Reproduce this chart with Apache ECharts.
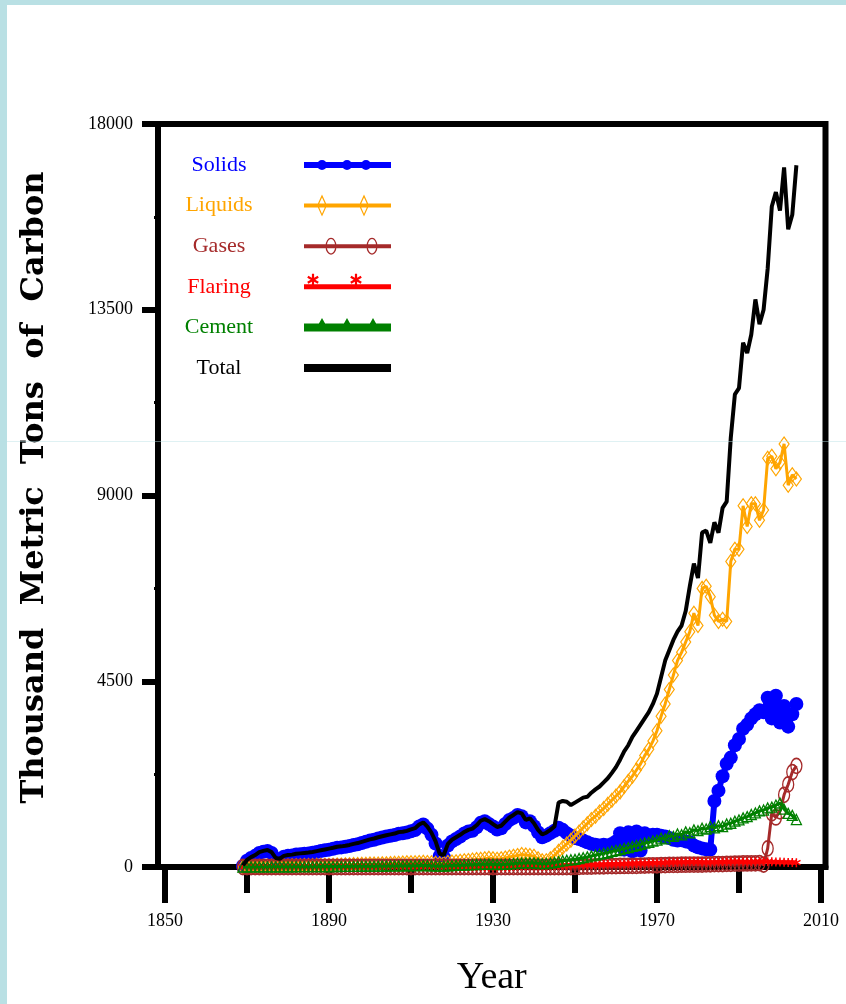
<!DOCTYPE html>
<html><head><meta charset="utf-8">
<script src="https://cdn.jsdelivr.net/npm/echarts@6/dist/echarts.min.js"></script>
<style>
html,body{margin:0;padding:0;background:#fff;}
#chart{position:absolute;left:0;top:0;width:846px;height:1004px;}
.band{position:absolute;background:#b9e0e4;pointer-events:none;}
</style></head><body>
<div id="chart"></div>
<div class="band" style="left:0;top:0;width:846px;height:5px"></div>
<div class="band" style="left:0;top:0;width:7px;height:1004px"></div>
<div style="position:absolute;left:0;top:441px;width:846px;height:1px;background:rgba(185,224,228,0.45);pointer-events:none"></div>
<script>
// ---------------- DATA ----------------
const firstYear = 1869, lastYear = 2004;
const years = [];
for (let y = firstYear; y <= lastYear; y++) years.push(y);

const solids = [25,
 150,220,270,340,370,390,340,200,180,250,
 270,280,300,310,320,330,345,365,385,405,
 420,440,465,475,490,510,530,550,580,610,
 640,660,690,715,740,755,775,805,815,835,
 865,895,980,1030,930,780,570,270,240,520,
 620,680,740,810,860,880,960,1070,1110,1040,
 980,910,940,1040,1140,1190,1260,1230,1080,1110,
 990,840,720,760,820,880,950,900,820,760,
 700,680,640,600,560,540,520,540,520,560,
 620,820,420,840,380,860,400,820,760,780,
 780,760,740,700,660,640,650,620,600,520,
 480,450,430,420,1600,1850,2200,2500,2650,2950,
 3100,3350,3450,3600,3700,3800,3750,4100,3600,4150,
 3500,3900,3400,3700,3950];

const liquids = [0,
 10,10,15,15,15,20,20,20,25,25,
 25,30,30,30,35,35,35,40,40,40,
 45,45,50,50,55,55,60,60,65,65,
 70,70,75,80,80,85,90,90,95,100,
 100,105,110,115,110,100,90,80,90,110,
 120,130,140,150,160,170,180,190,200,210,
 200,190,200,220,240,260,280,300,290,280,
 260,200,150,150,200,280,380,470,560,650,
 750,850,950,1050,1150,1230,1330,1420,1520,1620,
 1720,1820,1950,2080,2200,2350,2500,2700,2850,3050,
 3300,3650,3950,4300,4650,5000,5200,5450,5700,6150,
 5850,6750,6800,6550,6100,5950,6000,5950,7400,7700,
 7700,8750,8250,8800,8800,8400,8650,9900,9950,9650,
 9800,10250,9250,9500,9400];

const gases = [0,
 0,0,0,0,0,0,0,0,0,0,
 0,0,0,0,0,0,0,0,0,0,
 0,0,0,0,0,0,0,0,0,0,
 0,0,0,0,0,0,0,0,0,0,
 0,0,0,0,0,0,0,0,0,0,
 0,0,0,0,0,0,0,0,0,0,
 0,0,0,0,0,0,0,0,0,0,
 0,0,0,0,0,0,0,0,0,0,
 5,5,10,10,10,15,15,15,20,20,
 20,25,25,30,30,30,35,35,40,40,
 40,45,45,50,50,50,55,55,60,60,
 60,60,65,65,70,70,70,75,75,80,
 80,85,85,90,90,95,60,450,1300,1200,
 1350,1750,2000,2300,2450];

const flaring = [0,
 0,0,0,0,0,0,0,0,0,0,
 0,0,0,0,0,0,0,0,0,0,
 0,0,0,0,0,0,0,0,0,0,
 0,0,0,0,0,0,0,0,0,0,
 0,0,0,0,0,0,0,0,0,0,
 0,0,0,0,0,0,0,0,0,0,
 0,0,0,0,0,20,25,30,30,35,
 30,25,20,25,30,35,40,40,45,45,
 50,50,55,55,60,60,60,65,65,70,
 70,75,75,80,80,85,85,90,90,95,
 100,100,105,110,110,115,115,120,120,125,
 120,115,110,115,120,120,125,125,130,130,
 130,125,120,125,130,130,135,130,125,120,
 120,115,110,110,105];

const cement = [0,
 2,2,3,3,3,4,4,4,5,5,
 6,6,7,7,8,8,9,9,10,10,
 11,12,12,13,14,15,16,17,18,19,
 20,21,22,23,24,26,27,28,29,30,
 32,33,35,36,34,30,26,22,24,30,
 36,40,44,48,52,56,60,64,68,70,
 66,60,62,68,75,82,90,98,100,104,
 100,90,80,85,95,110,130,150,165,175,
 185,205,225,245,270,290,310,330,350,380,
 400,420,450,470,500,520,550,580,600,630,
 650,700,680,760,740,800,780,850,830,900,
 880,940,920,980,950,1000,980,1040,1060,1110,
 1140,1190,1220,1270,1310,1360,1380,1430,1450,1500,
 1550,1400,1300,1250,1150];

const total = [40,
 170,240,290,360,390,410,360,220,200,270,
 290,300,320,330,340,350,365,385,405,425,
 445,465,490,500,515,535,560,580,610,640,
 670,690,720,745,770,790,810,845,855,875,
 910,940,1030,1080,980,830,620,320,290,560,
 660,720,780,850,900,930,1010,1120,1160,1110,
 1040,970,1000,1100,1200,1260,1330,1300,1140,1180,
 1060,900,790,830,900,980,1560,1600,1580,1500,
 1560,1620,1680,1700,1800,1880,1950,2050,2150,2280,
 2420,2600,2800,2950,3150,3300,3450,3600,3750,3950,
 4200,4600,5000,5250,5500,5700,5850,6200,6800,7350,
 7000,8100,8150,7850,8350,8100,8700,8850,10400,11450,
 11600,12700,12450,12900,13750,13150,13500,14500,16000,16350,
 15900,16950,15450,15800,17000];

const seriesNames = ['Solids', 'Liquids', 'Gases', 'Flaring', 'Cement', 'Total'];
const xMajorTicks = [1850, 1890, 1930, 1970, 2010];
const xMinorTicks = [1870, 1910, 1950, 1990];
const yMin = 0, yMax = 18000, yStep = 4500;
const xMin = 1848.3, xMax = 2011.1;

// ---------------- STYLE ----------------
const COLORS = {Solids:'#0000ff', Liquids:'#ffa500', Gases:'#a52a2a', Flaring:'#ff0000', Cement:'#008000', Total:'#000000'};
const SERIF = '"Liberation Serif", "Times New Roman", serif';

function poly(pts, ccw) {
  let a = 0;
  for (let i = 0; i < pts.length; i++) { const p = pts[i], q = pts[(i + 1) % pts.length]; a += p[0] * q[1] - q[0] * p[1]; }
  if ((a < 0 && !ccw) || (a > 0 && ccw)) pts = pts.slice().reverse();
  return 'M' + pts.map(p => p[0].toFixed(2) + ' ' + p[1].toFixed(2)).join(' L') + ' Z ';
}
function rect(x0, y0, x1, y1) { return poly([[x0,y0],[x1,y0],[x1,y1],[x0,y1]]); }
function bar(x1, y1, x2, y2, hw) {
  const dx = x2 - x1, dy = y2 - y1, L = Math.hypot(dx, dy), nx = -dy / L * hw, ny = dx / L * hw;
  return poly([[x1+nx,y1+ny],[x2+nx,y2+ny],[x2-nx,y2-ny],[x1-nx,y1-ny]]);
}
function ellipse(cx, cy, rx, ry, cw) {
  const s = cw ? 1 : 0;
  return `M${cx-rx} ${cy} A${rx} ${ry} 0 1 ${s} ${cx+rx} ${cy} A${rx} ${ry} 0 1 ${s} ${cx-rx} ${cy} Z `;
}
function diamondRing(cx, cy, a, b, t) {
  const ai = a - t * Math.hypot(a, b) / b, bi = b - t * Math.hypot(a, b) / a;
  return poly([[cx,cy-b],[cx+a,cy],[cx,cy+b],[cx-a,cy]]) + poly([[cx,cy-bi],[cx+ai,cy],[cx,cy+bi],[cx-ai,cy]], true);
}
function asterisk(cx, cy, r, hw) {
  return bar(cx, cy - r, cx, cy + r, hw) +
    bar(cx - r * 0.87, cy - r * 0.5, cx + r * 0.87, cy + r * 0.5, hw) +
    bar(cx - r * 0.87, cy + r * 0.5, cx + r * 0.87, cy - r * 0.5, hw);
}
const W = 87, PAD = `M0 -13 L0 -13 Z M${W} 13 L${W} 13 Z `;
const ICONS = {
  Solids: rect(0,-3,W,3) + [18,43,62].map(c => ellipse(c,0,5,5,true)).join(''),
  Liquids: rect(0,-2,W,2) + [18,60].map(c => diamondRing(c,0,5,11,1.2)).join(''),
  Gases: rect(0,-2,W,2) + [27,68].map(c => ellipse(c,0,5.5,8.5,true) + ellipse(c,0,4.2,7.2,false)).join(''),
  Flaring: rect(0,-2.5,W,2.5) + [9,52].map(c => asterisk(c,-7,6,1.1) + bar(c,-7,c,0,1.1)).join(''),
  Cement: rect(0,-4,W,4) + [18,43,69].map(c => poly([[c,-9.5],[c+7,3],[c-7,3]])).join(''),
  Total: rect(0,-4,W,4)
};
const ASTER = 'path://' + asterisk(5,5,5,0.8);

function mk(name, vals, z, opts) {
  return Object.assign({
    name, type: 'line', animation: false, clip: true, showSymbol: true, z: z,
    data: years.map((y, i) => [y, vals[i]]),
    emphasis: {disabled: true}
  }, opts);
}

const rich = {};
seriesNames.forEach(n => {
  rich[n] = {color: COLORS[n], width: 160, height: 26, lineHeight: 26, align: 'center',
             fontFamily: SERIF, fontSize: 22};
});

const option = {
  backgroundColor: '#ffffff',
  animation: false,
  grid: {left: 158, top: 124, width: 667.5, height: 743, show: true,
         borderColor: '#000', borderWidth: 6, backgroundColor: '#fff',
         outerBoundsMode: 'none', containLabel: false},
  legend: {
    orient: 'vertical', align: 'right', left: 139, top: 152, padding: 0,
    itemWidth: W, itemHeight: 26, itemGap: 14.6, selectedMode: false,
    symbolKeepAspect: true,
    formatter: n => `{${n}|${n}}`,
    textStyle: {fontFamily: SERIF, fontSize: 22, rich: rich},
    data: seriesNames.map(n => ({
      name: n, icon: 'path://' + PAD + ICONS[n],
      itemStyle: {color: COLORS[n], borderWidth: 0},
      textStyle: {color: COLORS[n]}
    }))
  },
  xAxis: [{
    type: 'value', min: xMin, max: xMax, position: 'bottom',
    axisLine: {show: true, onZero: false, lineStyle: {color: '#000', width: 6}},
    axisTick: {show: true, customValues: xMajorTicks, length: 36, lineStyle: {color: '#000', width: 6}},
    axisLabel: {show: true, customValues: xMajorTicks, formatter: v => String(v), margin: 45,
                color: '#000', fontFamily: SERIF, fontSize: 18},
    splitLine: {show: false},
    name: 'Year', nameLocation: 'middle', nameGap: 92, nameMoveOverlap: false,
    nameTextStyle: {fontFamily: SERIF, fontSize: 38, color: '#000'}
  }, {
    type: 'value', min: xMin, max: xMax, position: 'bottom', gridIndex: 0,
    axisLine: {show: false, onZero: false},
    axisTick: {show: true, customValues: xMinorTicks, length: 26, lineStyle: {color: '#000', width: 6}},
    axisLabel: {show: false},
    splitLine: {show: false}
  }],
  yAxis: {
    type: 'value', min: yMin, max: yMax, interval: yStep,
    axisLine: {show: true, lineStyle: {color: '#000', width: 6}},
    axisTick: {show: true, length: 16, lineStyle: {color: '#000', width: 6}},
    minorTick: {show: true, splitNumber: 2, length: 4, lineStyle: {color: '#000', width: 3}},
    axisLabel: {formatter: v => String(v), margin: 25, color: '#000', fontFamily: SERIF, fontSize: 18},
    splitLine: {show: false},
    name: 'Thousand  Metric  Tons  of  Carbon', nameLocation: 'middle', nameRotate: 90, nameGap: 107,
    nameMoveOverlap: false,
    nameTextStyle: {fontFamily: '"DejaVu Serif", serif', fontWeight: 'bold', fontSize: 32, color: '#000',
                    padding: [0, 0, 0, 16]}
  },
  series: [
    mk('Solids', solids, 2, {symbol: 'circle', symbolSize: 14,
       itemStyle: {color: COLORS.Solids}, lineStyle: {color: COLORS.Solids, width: 6}}),
    mk('Liquids', liquids, 3, {symbol: 'diamond', symbolSize: [10, 14],
       itemStyle: {color: 'rgba(0,0,0,0)', borderColor: COLORS.Liquids, borderWidth: 1.2},
       lineStyle: {color: COLORS.Liquids, width: 3}}),
    mk('Gases', gases, 4, {symbol: 'circle', symbolSize: [11, 15],
       itemStyle: {color: 'rgba(0,0,0,0)', borderColor: COLORS.Gases, borderWidth: 1.5},
       lineStyle: {color: COLORS.Gases, width: 3}}),
    mk('Flaring', flaring, 5, {symbol: ASTER, symbolSize: 9,
       itemStyle: {color: COLORS.Flaring}, lineStyle: {color: COLORS.Flaring, width: 2}}),
    mk('Cement', cement, 6, {symbol: 'triangle', symbolSize: 10,
       itemStyle: {color: 'rgba(0,0,0,0)', borderColor: COLORS.Cement, borderWidth: 1.3},
       lineStyle: {color: COLORS.Cement, width: 3}}),
    mk('Total', total, 7, {symbol: 'none', lineStyle: {color: COLORS.Total, width: 4}})
  ]
};

const chart = echarts.init(document.getElementById('chart'), null, {renderer: 'canvas'});
chart.setOption(option);
</script>
</body></html>
